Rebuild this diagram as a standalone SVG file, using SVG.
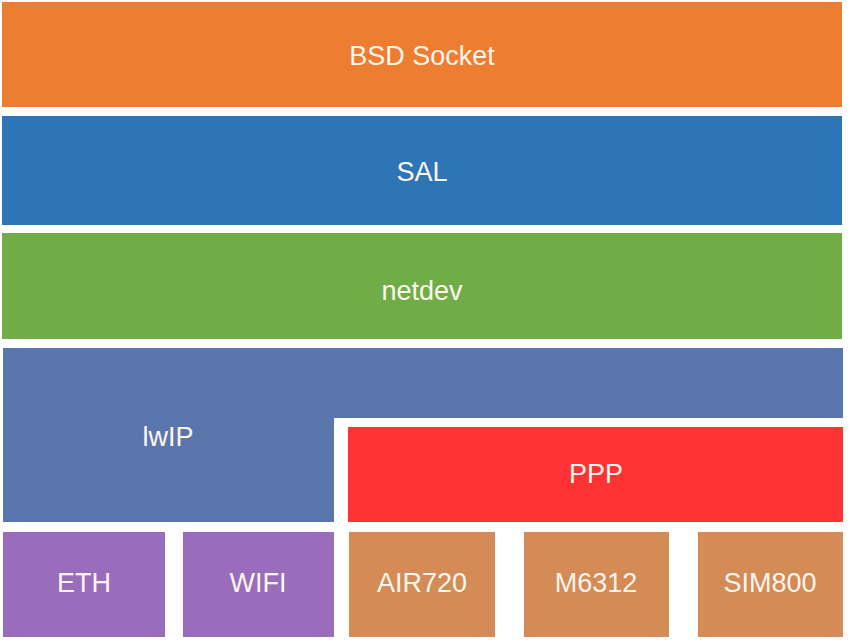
<svg xmlns="http://www.w3.org/2000/svg" width="849" height="642" viewBox="0 0 849 642">
<style>
text{font-family:"Liberation Sans",Arial,sans-serif;font-size:27px;fill:#fdf6ee;text-anchor:middle;dominant-baseline:central}
</style>
<rect width="849" height="642" fill="#ffffff"/>
<g id="bsd"><rect x="2" y="2" width="840" height="105" fill="#ED7D31"/><text x="422" y="56">BSD Socket</text></g>
<g id="sal"><rect x="2" y="116" width="840" height="109" fill="#2E75B6"/><text x="422" y="172">SAL</text></g>
<g id="netdev"><rect x="2" y="233" width="840" height="106" fill="#70AD47"/><text x="422" y="291">netdev</text></g>
<g id="lwip"><polygon points="3,348 843,348 843,418 334,418 334,522 3,522" fill="#5A76AD"/><text x="168" y="437">lwIP</text></g>
<g id="ppp"><rect x="348" y="427" width="495" height="95" fill="#FF3333"/><text x="596" y="474">PPP</text></g>
<g id="eth"><rect x="3" y="532" width="162" height="105" fill="#9A6CBC"/><text x="84" y="583">ETH</text></g>
<g id="wifi"><rect x="183" y="532" width="151" height="105" fill="#9A6CBC"/><text x="258" y="583">WIFI</text></g>
<g id="air720"><rect x="349" y="532" width="146" height="105" fill="#D48B56"/><text x="422" y="583">AIR720</text></g>
<g id="m6312"><rect x="524" y="532" width="145" height="105" fill="#D48B56"/><text x="596" y="583">M6312</text></g>
<g id="sim800"><rect x="698" y="532" width="145" height="105" fill="#D48B56"/><text x="770" y="583">SIM800</text></g>
<g id="connectors"></g>
</svg>
